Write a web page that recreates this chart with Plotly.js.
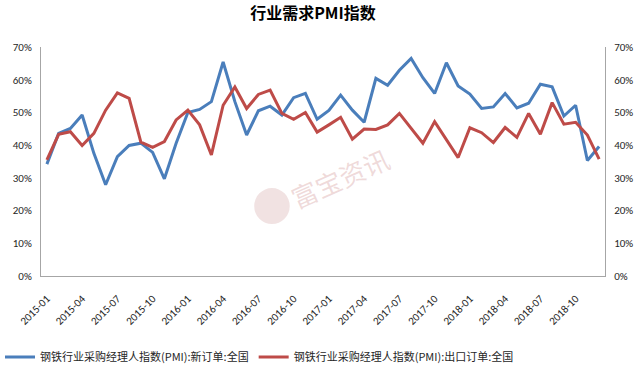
<!DOCTYPE html>
<html>
<head>
<meta charset="utf-8">
<script src="https://cdn.plot.ly/plotly-3.0.1.min.js"></script>
<style>html,body{margin:0;padding:0;background:#fff;}#chart{width:644px;height:371px;}</style>
</head>
<body>
<div id="chart"></div>
<script>
const months = [];
for (let y = 2015; y <= 2018; y++) for (let m = 1; m <= 12; m++) months.push(y + '-' + String(m).padStart(2, '0'));

const newOrders = [34.2,43.6,45.1,49.2,37.5,27.9,36.5,39.9,40.6,37.8,29.7,40.6,
  50.0,50.9,53.3,65.4,53.3,43.1,50.5,51.9,49.2,54.5,55.8,47.9,
  50.6,55.3,50.7,47.0,60.4,58.3,62.9,66.5,60.6,55.8,65.2,58.1,
  55.6,51.2,51.7,55.8,51.4,52.8,58.6,57.8,48.9,52.2,35.3,39.6];
const exportOrders = [35.5,43.3,44.1,39.9,43.6,50.7,56.0,54.3,40.9,39.3,41.1,47.7,
  50.7,46.2,37.0,52.2,57.8,51.2,55.5,56.8,49.7,47.9,50.0,44.0,
  46.2,48.5,41.8,44.9,44.8,46.2,49.7,45.1,40.6,47.2,41.6,36.2,
  45.3,43.8,40.8,45.4,42.4,49.7,43.3,53.0,46.4,47.0,43.1,35.7];
const seriesNames = ['钢铁行业采购经理人指数(PMI):新订单:全国','钢铁行业采购经理人指数(PMI):出口订单:全国'];
const tickLabels = months.filter((_, i) => i % 3 === 0);

const font = 'Calibri, Carlito, "Liberation Sans", "Noto Sans CJK SC", sans-serif';
const cjk = '"Noto Sans CJK SC", sans-serif';

const traces = [
  {x: months, y: newOrders, name: seriesNames[0], type: 'scatter', mode: 'lines',
   line: {color: '#4a7ebb', width: 3}, yaxis: 'y'},
  {x: months, y: exportOrders, name: seriesNames[1], type: 'scatter', mode: 'lines',
   line: {color: '#be4b48', width: 3}, yaxis: 'y2'}
];

const axisY = {range: [0, 70], dtick: 10, ticksuffix: '%', showgrid: false, zeroline: false,
  showline: true, linecolor: '#a6a6a6', linewidth: 1, ticks: '', ticklabelstandoff: 6,
  tickfont: {family: font, size: 11, color: '#262626'}, fixedrange: true};

const layout = {
  width: 644, height: 371,
  margin: {l: 41, r: 39, t: 47, b: 95},
  paper_bgcolor: '#fff', plot_bgcolor: '#fff',
  title: {text: '<b>行业需求PMI指数</b>', xref: 'container', yref: 'container', x: 0.486, xanchor: 'center', y: 0.965, yanchor: 'middle',
          font: {family: cjk, size: 16, color: '#000'}},
  xaxis: {type: 'category', range: [-0.5, 47.5], tickmode: 'array', tickvals: tickLabels, ticktext: tickLabels,
          tickangle: -45, showgrid: false, zeroline: false, showline: true, linecolor: '#a6a6a6', ticks: '',
          ticklabelstandoff: 11,
          tickfont: {family: font, size: 11, color: '#262626'}},
  yaxis: Object.assign({}, axisY, {side: 'left'}),
  yaxis2: Object.assign({}, axisY, {side: 'right', overlaying: 'y'}),
  showlegend: true,
  legend: {orientation: 'h', xref: 'container', yref: 'container', x: 0.0, xanchor: 'left', y: 0.038, yanchor: 'middle',
           font: {family: cjk, size: 11, color: '#262626'}, itemgap: 0, tracegroupgap: 0},
  annotations: [
    {text: '富宝资讯', xref: 'paper', yref: 'paper', x: 0.53, y: 0.428, showarrow: false, textangle: -24,
     font: {family: cjk, size: 26, color: 'rgba(210,150,150,0.35)'}}
  ],
  shapes: [
    {type: 'circle', xref: 'paper', yref: 'paper', x0: 0.378, x1: 0.441, y0: 0.227, y1: 0.384,
     fillcolor: 'rgba(210,160,160,0.3)', line: {width: 0}, layer: 'below'}
  ]
};

Plotly.newPlot('chart', traces, layout, {displayModeBar: false, staticPlot: true});
</script>
</body>
</html>
